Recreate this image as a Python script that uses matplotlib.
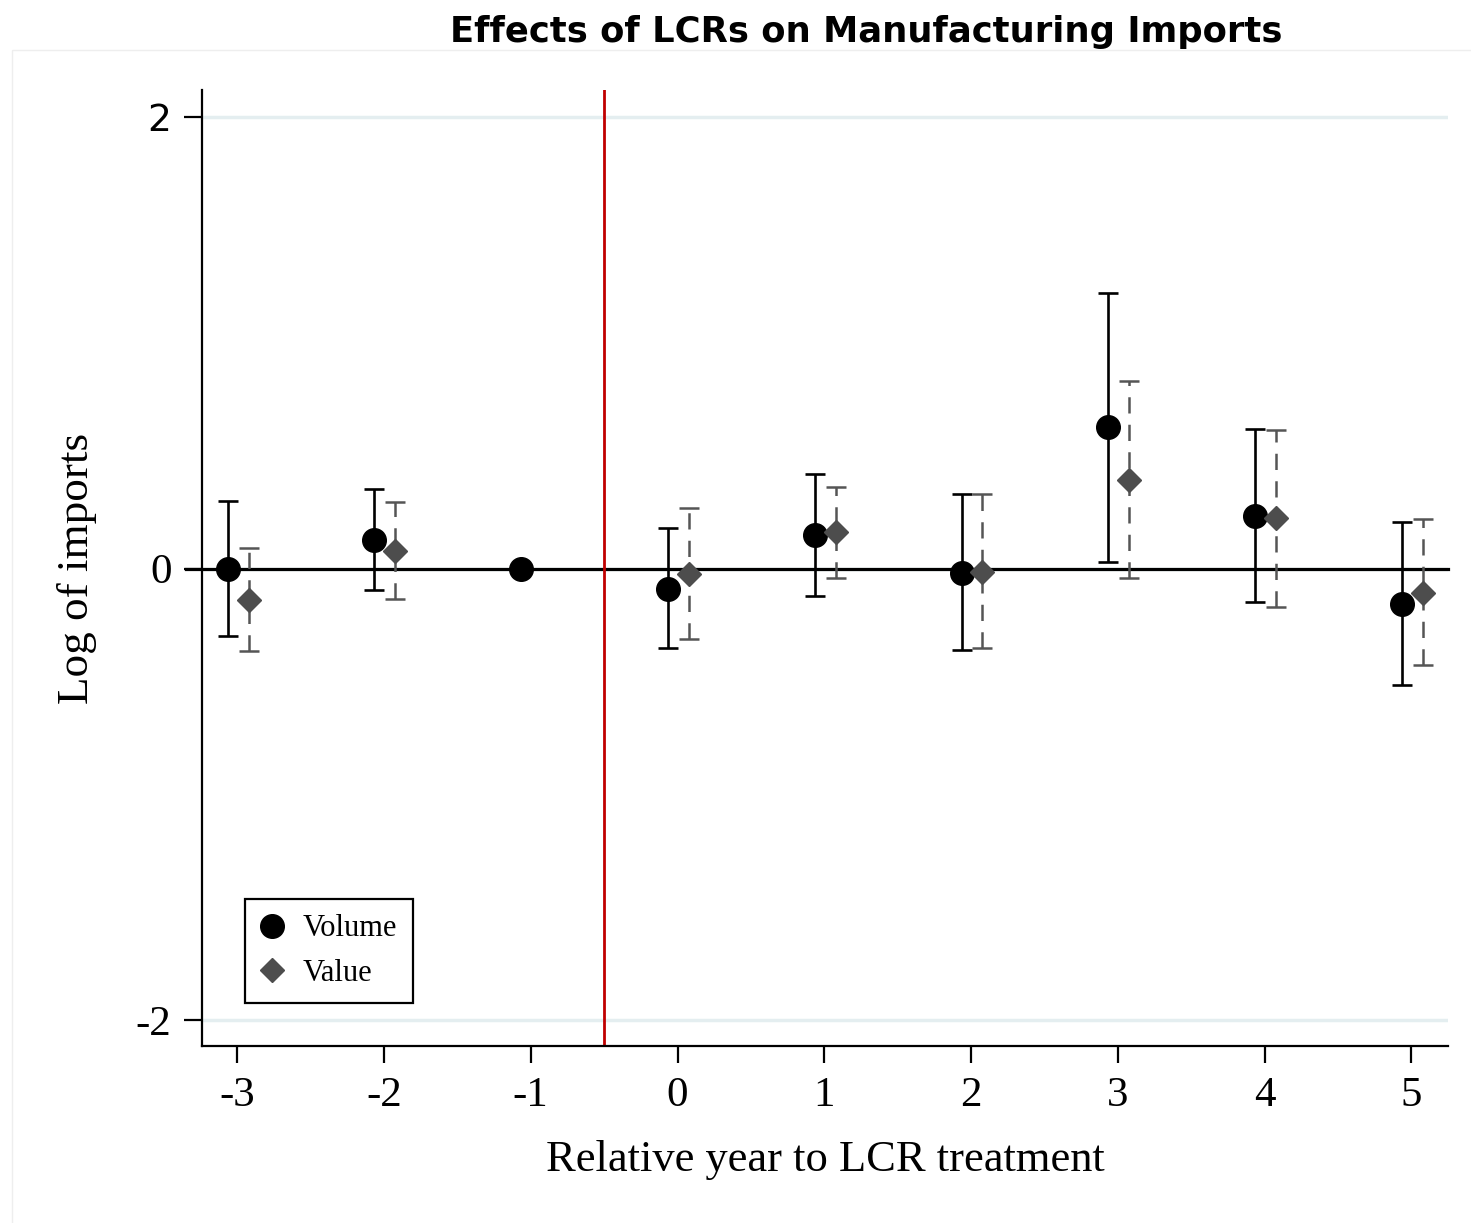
import numpy as np
import matplotlib
matplotlib.use('Agg')
import matplotlib.pyplot as plt
from matplotlib.patches import Rectangle

# event-time coefficients, relative year to LCR treatment
years = [-3, -2, -1, 0, 1, 2, 3, 4, 5]

vol_coef = [0.0, 0.128, 0.0, -0.089, 0.150, -0.018, 0.629, 0.235, -0.155]
vol_lo = [-0.297, -0.097, None, -0.354, -0.120, -0.360, 0.027, -0.146, -0.514]
vol_hi = [0.300, 0.354, None, 0.180, 0.420, 0.330, 1.222, 0.620, 0.208]

val_years = [-3, -2, 0, 1, 2, 3, 4, 5]
val_coef = [-0.137, 0.080, -0.022, 0.160, -0.013, 0.394, 0.226, -0.106]
val_lo = [-0.363, -0.133, -0.314, -0.040, -0.354, -0.040, -0.168, -0.425]
val_hi = [0.089, 0.297, 0.270, 0.363, 0.330, 0.833, 0.616, 0.221]

yticks = [-2, 0, 2]

serif = 'Liberation Serif'

fig = plt.figure(figsize=(14.71, 12.23), dpi=100)
ax = fig.add_axes([0.1373, 0.1447, 0.8471, 0.7817])

# faint graph-region border
fig.patches.append(Rectangle((12 / 1471, -0.01), 1.0, 1 - 50 / 1223 + 0.01,
                             transform=fig.transFigure, fill=False,
                             edgecolor='#eeeeee', lw=1))

ax.set_xlim(-3.24, 5.25)
ax.set_ylim(-2.115, 2.12)

ax.yaxis.grid(True, color='#e4eef0', lw=2.5, zorder=0)
ax.set_axisbelow(True)

ax.axhline(0, xmin=-0.013, xmax=1, color='black', lw=2.3, clip_on=False, zorder=2)
ax.axvline(-0.5, color='#c00000', lw=2, zorder=2)

# volume: solid CIs, black circles
x_vol = np.array(years) - 0.065
has_ci = [i for i in range(len(years)) if vol_lo[i] is not None]
xv = x_vol[has_ci]
cv = np.array([vol_coef[i] for i in has_ci])
lo = np.array([vol_lo[i] for i in has_ci])
hi = np.array([vol_hi[i] for i in has_ci])
ax.errorbar(xv, cv, yerr=[cv - lo, hi - cv], fmt='none', ecolor='black',
            elinewidth=1.9, capsize=7.5, capthick=1.9, zorder=3)
ax.plot(x_vol, vol_coef, 'o', color='black', markersize=17, zorder=4, label='Volume')

# value: dashed CIs, grey diamonds
x_val = np.array(val_years) + 0.078
cva = np.array(val_coef)
eb = ax.errorbar(x_val, cva, yerr=[cva - np.array(val_lo), np.array(val_hi) - cva],
                 fmt='none', ecolor='#555555', elinewidth=1.8, capsize=7,
                 capthick=1.8, zorder=3)
eb[2][0].set_linestyle((0, (6.5, 4.5)))
ax.plot(x_val, val_coef, 'D', color='#4d4d4d', markersize=12, zorder=4, label='Value')

for s in ['top', 'right']:
    ax.spines[s].set_visible(False)
for s in ['left', 'bottom']:
    ax.spines[s].set_linewidth(1.6)

ax.set_xticks(years)
ax.set_xticklabels([str(y) for y in years])
ax.set_yticks(yticks)
ax.set_yticklabels([str(y) for y in yticks])
ax.tick_params(axis='y', length=13, width=1.6, pad=9, labelsize=31)
ax.tick_params(axis='x', length=12, width=1.6, pad=10, labelsize=31)
for lab in ax.get_xticklabels() + ax.get_yticklabels():
    lab.set_fontfamily(serif)
ax.get_yticklabels()[-1].set_fontfamily('DejaVu Sans')
ax.get_yticklabels()[-1].set_fontsize(27)

ax.set_xlabel('Relative year to LCR treatment', fontsize=32, family=serif, labelpad=18)
ax.set_ylabel('Log of imports', fontsize=32.5, family=serif, labelpad=28)

leg = ax.legend(loc='lower left', bbox_to_anchor=(0.0345, 0.045), fancybox=False,
                framealpha=1, edgecolor='black', prop={'family': serif, 'size': 22},
                handletextpad=0.6, borderpad=0.5, labelspacing=0.5, handlelength=0.8,
                borderaxespad=0)
leg.get_frame().set_linewidth(1.6)

fig.text(0.589, 0.974, 'Effects of LCRs on Manufacturing Imports', ha='center',
         va='center', fontsize=25.5, fontweight='bold', family='DejaVu Sans')

fig.savefig('out.png', dpi=100, facecolor='white')
